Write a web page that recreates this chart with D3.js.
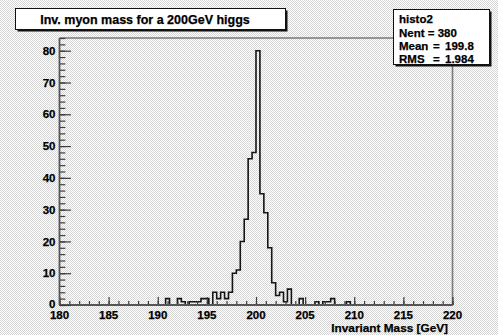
<!DOCTYPE html>
<html>
<head>
<meta charset="utf-8">
<script src="https://cdn.jsdelivr.net/npm/d3@7"></script>
<style>
  html, body { margin: 0; padding: 0; background: #fff; }
  svg { display: block; }
  text { font-family: "Liberation Sans", Arial, Helvetica, sans-serif; font-weight: bold; fill: #000; stroke: #000; stroke-width: 0.25px; }
</style>
</head>
<body>
<svg id="c" width="498" height="335"></svg>
<script>
// histo2: invariant myon mass, 100 bins from 180 to 220 GeV
const histName = "histo2";
const histTitle = "Inv. myon mass for a 200GeV higgs";
const xTitle = "Invariant Mass [GeV]";
const nBins = 100, xLow = 180, xHigh = 220;
const binCounts = [
  0, 0, 0, 0, 0, 0, 0, 0, 0, 0,
  0, 0, 0, 0, 0, 0, 0, 0, 0, 0,
  0, 0, 0, 0, 0, 0, 0, 2, 0, 0,
  2, 1, 0, 1, 1, 1, 2, 2, 0, 4,
  2, 4, 2, 4, 10, 11, 20, 27, 46, 48,
  80, 35, 29, 18, 7, 3, 4, 1, 5, 0,
  0, 2, 0, 0, 0, 1, 0, 1, 1, 2,
  0, 0, 0, 1, 0, 0, 0, 0, 0, 0,
  0, 0, 0, 0, 0, 0, 0, 0, 0, 0,
  0, 0, 0, 0, 0, 0, 0, 0, 0, 0
];
const xTickLabels = [180, 185, 190, 195, 200, 205, 210, 215, 220];
const yTickLabels = [0, 10, 20, 30, 40, 50, 60, 70, 80];
const yMax = 84;
const statsLines = [
  { label: "Nent", value: "380" },
  { label: "Mean", value: "199.8" },
  { label: "RMS",  value: "1.984" }
];

const svg = d3.select("#c");

// dithered pad background
const defs = svg.append("defs");
const pat = defs.append("pattern").attr("id", "dither")
  .attr("width", 2).attr("height", 2).attr("patternUnits", "userSpaceOnUse");
pat.append("rect").attr("width", 2).attr("height", 2).attr("fill", "#ffffff");
pat.append("rect").attr("x", 0).attr("y", 0).attr("width", 1).attr("height", 1).attr("fill", "#d6d6d6");
pat.append("rect").attr("x", 1).attr("y", 1).attr("width", 1).attr("height", 1).attr("fill", "#d6d6d6");
svg.append("rect").attr("width", 498).attr("height", 335).attr("fill", "url(#dither)");

const frame = { left: 59.5, right: 452.5, top: 38, bottom: 305 };
const x = d3.scaleLinear().domain([xLow, xHigh]).range([frame.left, frame.right]);
const y = d3.scaleLinear().domain([0, yMax]).range([frame.bottom, frame.top]);

// frame (top and right edges)
svg.append("path")
  .attr("d", `M${frame.left},${frame.top}H${frame.right}V${frame.bottom}`)
  .attr("fill", "none").attr("stroke", "#7a7a7a").attr("stroke-width", 1.6);

// histogram outline
const binW = (xHigh - xLow) / nBins;
const pts = [[xLow, 0]];
binCounts.forEach((c, i) => {
  pts.push([xLow + i * binW, c]);
  pts.push([xLow + (i + 1) * binW, c]);
});
pts.push([xHigh, 0]);
svg.append("path")
  .attr("d", d3.line().x(d => x(d[0])).y(d => y(d[1]))(pts))
  .attr("fill", "none").attr("stroke", "#151515").attr("stroke-width", 1.6)
  .attr("stroke-linejoin", "miter");

// x axis: ticks pointing up into the frame
const xAxisMajor = d3.axisTop(x).tickValues(xTickLabels).tickSize(8).tickFormat("");
const xAxisMinor = d3.axisTop(x).tickValues(d3.range(xLow, xHigh + 1, 1)).tickSize(4).tickFormat("");
const gx = svg.append("g").attr("transform", `translate(0,${frame.bottom})`);
gx.append("g").call(xAxisMinor);
gx.append("g").call(xAxisMajor);
gx.selectAll(".domain").remove();
gx.selectAll("line").attr("stroke", "#3c3c3c").attr("stroke-width", 1.2);
svg.append("line").attr("x1", frame.left).attr("x2", frame.right)
  .attr("y1", frame.bottom).attr("y2", frame.bottom)
  .attr("stroke", "#555").attr("stroke-width", 1.8);
svg.selectAll(".xlab").data(xTickLabels).enter().append("text")
  .attr("class", "xlab")
  .attr("x", d => x(d)).attr("y", 319)
  .attr("text-anchor", "middle").attr("font-size", 11.5)
  .text(d => d);
svg.append("text").attr("x", 448).attr("y", 332)
  .attr("text-anchor", "end").attr("font-size", 11.8)
  .text(xTitle);

// y axis: ticks pointing right into the frame
const yAxisMajor = d3.axisRight(y).tickValues(yTickLabels).tickSize(11.5).tickFormat("");
const yAxisMinor = d3.axisRight(y).tickValues(d3.range(0, yMax + 1, 2)).tickSize(5.8).tickFormat("");
const gy = svg.append("g").attr("transform", `translate(${frame.left},0)`);
gy.append("g").call(yAxisMinor);
gy.append("g").call(yAxisMajor);
gy.selectAll(".domain").remove();
gy.selectAll("line").attr("stroke", "#3c3c3c").attr("stroke-width", 1.2);
svg.append("line").attr("x1", frame.left).attr("x2", frame.left)
  .attr("y1", frame.top).attr("y2", frame.bottom)
  .attr("stroke", "#555").attr("stroke-width", 1.8);
svg.selectAll(".ylab").data(yTickLabels).enter().append("text")
  .attr("class", "ylab")
  .attr("x", 55.5).attr("y", d => y(d) + 4.2 - (d === 0 ? 1 : 0))
  .attr("text-anchor", "end").attr("font-size", 11.5)
  .text(d => d);

// boxed pave with a drop shadow
function pave(x0, y0, w, h) {
  svg.append("rect").attr("x", x0 + 2).attr("y", y0 + 2).attr("width", w).attr("height", h)
    .attr("fill", "#111");
  svg.append("rect").attr("x", x0).attr("y", y0).attr("width", w).attr("height", h)
    .attr("fill", "#fff").attr("stroke", "#111").attr("stroke-width", 1);
}

// title
pave(15.5, 8.5, 270, 21);
svg.append("text").attr("x", 145).attr("y", 23.5)
  .attr("text-anchor", "middle").attr("font-size", 12.5)
  .text(histTitle);

// statistics box
pave(393.5, 9.5, 96, 55);
svg.append("text").attr("x", 399).attr("y", 22.5).attr("font-size", 11.5).text(histName);
svg.append("text").attr("x", 399).attr("y", 36.5).attr("font-size", 11.5)
  .text(`${statsLines[0].label} = ${statsLines[0].value}`);
statsLines.slice(1).forEach((s, i) => {
  const yy = 49.5 + i * 13;
  svg.append("text").attr("x", 399).attr("y", yy).attr("font-size", 11.5).text(s.label);
  svg.append("text").attr("x", 433).attr("y", yy).attr("font-size", 11.5).text("=");
  svg.append("text").attr("x", 445).attr("y", yy).attr("font-size", 11.5).text(s.value);
});
</script>
</body>
</html>
